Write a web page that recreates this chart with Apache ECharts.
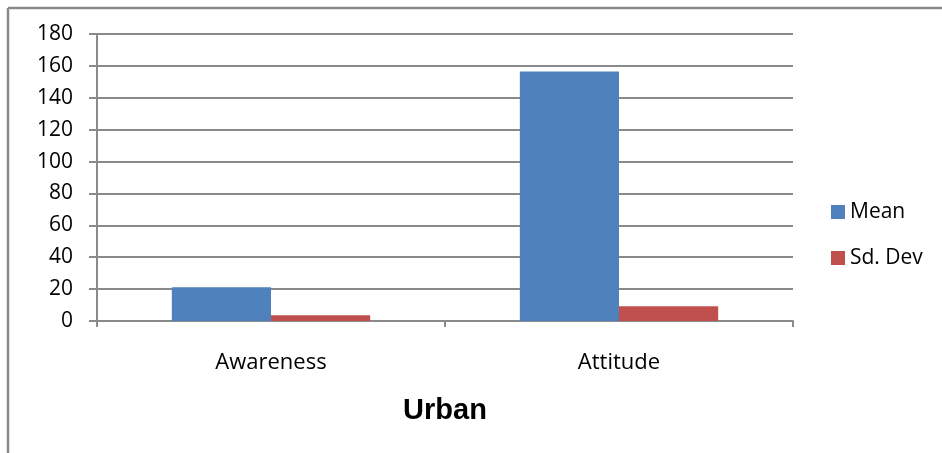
<!DOCTYPE html>
<html>
<head>
<meta charset="utf-8">
<script src="https://cdn.jsdelivr.net/npm/echarts@6/dist/echarts.min.js"></script>
<style>
html,body{margin:0;padding:0;background:#fff;}
#chart{width:942px;height:453px;}
</style>
</head>
<body>
<div id="chart"></div>
<script>
const categories = ['Awareness', 'Attitude'];
const meanValues = [21.2, 156.5];
const sdValues = [3.6, 9.3];
const yTicks = {min: 0, max: 180, interval: 20};
const chartTitle = 'Urban';

const chart = echarts.init(document.getElementById('chart'), null, {renderer: 'canvas'});
const axisGray = '#8a8a8a';
const font = '"Open Sans", sans-serif';
chart.setOption({
  animation: false,
  backgroundColor: '#fff',
  grid: {left: 97, right: 149, top: 34, bottom: 132, containLabel: false},
  legend: {
    orient: 'vertical',
    left: 826, top: 196,
    itemWidth: 14, itemHeight: 14, itemGap: 24, itemTextGap: 7,
    icon: 'rect',
    textStyle: {fontFamily: font, fontSize: 21, color: '#000', lineHeight: 22},
    data: ['Mean', 'Sd. Dev']
  },
  xAxis: {
    type: 'category',
    data: categories,
    axisLine: {lineStyle: {color: axisGray, width: 2}},
    axisTick: {show: true, length: 6, lineStyle: {color: axisGray, width: 2}},
    axisLabel: {fontFamily: font, fontSize: 22, color: '#000', margin: 31}
  },
  yAxis: {
    type: 'value',
    min: yTicks.min, max: yTicks.max, interval: yTicks.interval,
    axisLine: {show: true, lineStyle: {color: axisGray, width: 2}},
    axisTick: {show: true, length: 8, lineStyle: {color: axisGray, width: 2}},
    splitLine: {lineStyle: {color: axisGray, width: 2}},
    axisLabel: {fontFamily: font, fontSize: 21, color: '#000', margin: 24}
  },
  series: [
    {name: 'Mean', type: 'bar', data: meanValues, barGap: '0%', barCategoryGap: '43%',
     itemStyle: {color: '#4F81BD'}},
    {name: 'Sd. Dev', type: 'bar', data: sdValues, barGap: '0%', barCategoryGap: '43%',
     itemStyle: {color: '#C0504D'}}
  ],
  graphic: [
    {type: 'line', shape: {x1: 8, y1: 8, x2: 942, y2: 8}, style: {stroke: axisGray, lineWidth: 2.5}},
    {type: 'line', shape: {x1: 8, y1: 8, x2: 8, y2: 453}, style: {stroke: axisGray, lineWidth: 2.5}},
    {type: 'text', x: 445, y: 411, style: {text: chartTitle, font: 'bold 29px "Liberation Sans", Arial, sans-serif', fill: '#000', textAlign: 'center', textVerticalAlign: 'middle'}}
  ]
});
</script>
</body>
</html>
